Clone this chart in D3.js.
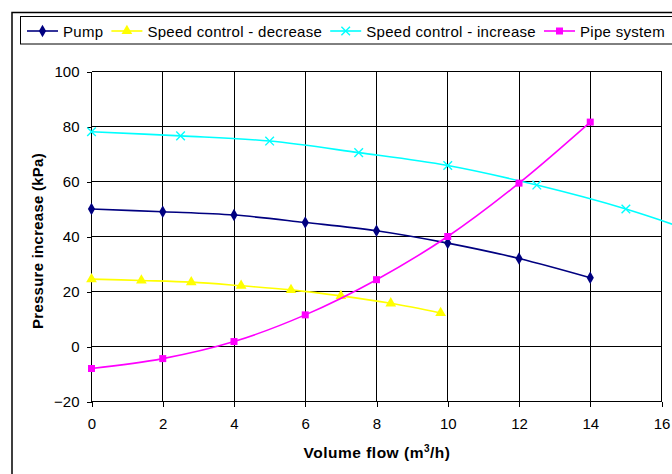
<!DOCTYPE html>
<html>
<head>
<meta charset="utf-8">
<script src="https://cdn.jsdelivr.net/npm/d3@7"></script>
<style>
  body { margin: 0; background: #fff; }
  text { font-family: "Liberation Sans", Arial, sans-serif; }
</style>
</head>
<body>
<svg id="chart" width="672" height="474"></svg>
<script>
// data
var pumpX = [0, 2, 4, 6, 8, 10, 12, 14];
var pumpY = [50, 49, 47.8, 45.1, 42.1, 37.6, 32, 25];
var decX = [0, 1.4, 2.8, 4.2, 5.6, 7, 8.4, 9.8];
var decY = [24.5, 24, 23.4, 22.1, 20.6, 18.4, 15.7, 12.2];
var incX = [0, 2.5, 5, 7.5, 10, 12.5, 15, 17.5];
var incY = [78.1, 76.6, 74.7, 70.5, 65.8, 58.7, 50, 39.1];
var pipeX = [0, 2, 4, 6, 8, 10, 12, 14];
var pipeY = [-8, -4.4, 1.8, 11.5, 24.3, 40, 59.4, 81.6];
var xTicks = [0, 2, 4, 6, 8, 10, 12, 14, 16];
var yTicks = [-20, 0, 20, 40, 60, 80, 100];

var series = [
  {name: "Pump", xs: pumpX, ys: pumpY, color: "#000080", sym: d3.symbolDiamond, size: 45, stroke: false},
  {name: "Speed control - decrease", xs: decX, ys: decY, color: "#ffff00", sym: d3.symbolTriangle, size: 50, stroke: false},
  {name: "Speed control - increase", xs: incX, ys: incY, color: "#00ffff", sym: d3.symbolTimes, size: 50, stroke: true},
  {name: "Pipe system", xs: pipeX, ys: pipeY, color: "#ff00ff", sym: d3.symbolSquare, size: 49, stroke: false}
];

var svg = d3.select("#chart");

// outer chart border
svg.append("rect")
  .attr("x", 12).attr("y", 12.5)
  .attr("width", 700).attr("height", 500)
  .attr("fill", "#fff").attr("stroke", "#000").attr("stroke-width", 1.5);

var x = d3.scaleLinear().domain([0, 16]).range([91.5, 661.5]);
var y = d3.scaleLinear().domain([-20, 100]).range([401.5, 71.5]);

// grid
var grid = svg.append("g").attr("shape-rendering", "crispEdges");
grid.selectAll(".hg").data(yTicks).enter().append("line")
  .attr("x1", x(0)).attr("x2", x(16))
  .attr("y1", function(d){ return y(d); }).attr("y2", function(d){ return y(d); })
  .attr("stroke", "#000");
grid.selectAll(".vg").data(xTicks).enter().append("line")
  .attr("y1", y(-20)).attr("y2", y(100))
  .attr("x1", function(d){ return x(d); }).attr("x2", function(d){ return x(d); })
  .attr("stroke", "#000");

// axes
var yAxis = svg.append("g")
  .attr("transform", "translate(" + x(0) + ",0)")
  .call(d3.axisLeft(y).tickValues(yTicks).tickSize(5).tickPadding(7));
var xAxis = svg.append("g")
  .attr("transform", "translate(0," + y(-20) + ")")
  .call(d3.axisBottom(x).tickValues(xTicks).tickSize(5).tickPadding(12));
[yAxis, xAxis].forEach(function(a){
  a.select(".domain").remove();
  a.selectAll("line").attr("stroke", "#000").attr("shape-rendering", "crispEdges");
  a.selectAll("text").attr("font-size", 15).attr("fill", "#000")
    .style("font-family", "'Liberation Sans', Arial, sans-serif");
});

// axis titles
svg.append("text")
  .attr("transform", "translate(43,241) rotate(-90)")
  .attr("text-anchor", "middle")
  .attr("font-size", 15).attr("font-weight", "bold")
  .attr("letter-spacing", 0.25)
  .text("Pressure increase (kPa)");
var xt = svg.append("text")
  .attr("x", 377).attr("y", 458)
  .attr("text-anchor", "middle")
  .attr("font-size", 15.5).attr("font-weight", "bold")
  .attr("letter-spacing", 0.5);
xt.append("tspan").text("Volume flow (m");
xt.append("tspan").attr("font-size", 10).attr("dy", -6).text("3");
xt.append("tspan").attr("dy", 6).text("/h)");

// lines + markers
var line = d3.line()
  .x(function(d){ return x(d[0]); })
  .y(function(d){ return y(d[1]); })
  .curve(d3.curveCatmullRom.alpha(0.5));

series.forEach(function(s){
  var pts = s.xs.map(function(v, i){ return [v, s.ys[i]]; });
  svg.append("path").datum(pts)
    .attr("d", line)
    .attr("fill", "none")
    .attr("stroke", s.color)
    .attr("stroke-width", 1.6);
  svg.selectAll(null).data(pts).enter().append("path")
    .attr("transform", function(d){ return "translate(" + x(d[0]) + "," + y(d[1]) + ")"; })
    .attr("d", d3.symbol().type(s.sym).size(s.size))
    .attr("fill", s.stroke ? "none" : s.color)
    .attr("stroke", s.stroke ? s.color : "none")
    .attr("stroke-width", 1.4);
});

// legend
svg.append("rect")
  .attr("x", 20.5).attr("y", 16.5)
  .attr("width", 700).attr("height", 27.5)
  .attr("fill", "#fff").attr("stroke", "#000").attr("stroke-width", 1);

var lx = 27, ly = 31;
series.forEach(function(s){
  svg.append("line")
    .attr("x1", lx).attr("x2", lx + 31)
    .attr("y1", ly).attr("y2", ly)
    .attr("stroke", s.color).attr("stroke-width", 1.6);
  svg.append("path")
    .attr("transform", "translate(" + (lx + 15.5) + "," + ly + ")")
    .attr("d", d3.symbol().type(s.sym).size(s.size))
    .attr("fill", s.stroke ? "none" : s.color)
    .attr("stroke", s.stroke ? s.color : "none")
    .attr("stroke-width", 1.4);
  var t = svg.append("text")
    .attr("x", lx + 36).attr("y", ly + 5.5)
    .attr("font-size", 15)
    .attr("letter-spacing", 0.3)
    .text(s.name);
  lx = lx + 36 + t.node().getComputedTextLength() + 8;
});
</script>
</body>
</html>
